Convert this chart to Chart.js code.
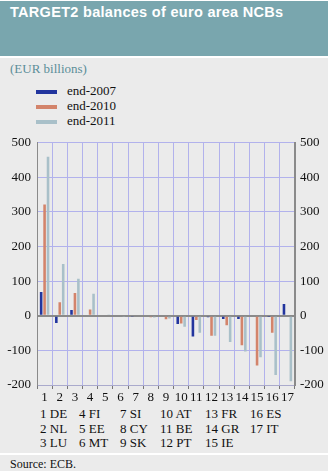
<!DOCTYPE html>
<html lang="en">
<head>
    <meta charset="UTF-8">
    <title>TARGET2 balances of euro area NCBs</title>
    <script src="https://cdn.jsdelivr.net/npm/chart.js"></script>
    <style>
        html, body { margin: 0; padding: 0; background: #fff; }
        #frame { position: absolute; left: 0; top: 1px; width: 328px; height: 470px; background: #ebebeb; overflow: hidden; }
        #band { position: absolute; left: 0; top: 0; width: 328px; height: 55px; background: #79a6ae; border-bottom: 2px solid #fff; }
        #band h1 { margin: 0; position: absolute; left: 10px; top: 3px; font: bold 14.5px "Liberation Sans", sans-serif; color: #fff; letter-spacing: 0.3px; }
        .serif { font-family: "Liberation Serif", serif; font-size: 13px; color: #111; }
        #unit { position: absolute; left: 10px; top: 60px; color: #5b8e99; }
        #legend { position: absolute; left: 36px; top: 82px; }
        #legend div { height: 15px; line-height: 15px; white-space: nowrap; }
        #legend span.sw { display: inline-block; width: 21px; height: 4px; vertical-align: middle; margin-right: 10px; }
        #wrap { position: absolute; left: 0; top: 129px; width: 331px; height: 280px; }
        #key { position: absolute; top: 406px; left: 0; }
        #key div { position: absolute; white-space: nowrap; line-height: 14.5px; }
        #foot { position: absolute; left: 0; top: 452px; width: 328px; border-top: 2px solid #fff; }
        #foot div { padding: 2px 0 0 10px; font-size: 12px; }
    </style>
</head>
<body>
    <div id="frame">
        <div id="band"><h1>TARGET2 balances of euro area NCBs</h1></div>
        <div id="unit" class="serif">(EUR billions)</div>
        <div id="legend" class="serif"></div>
        <div id="key" class="serif"></div>
        <div id="foot" class="serif"><div>Source: ECB.</div></div>
    </div>
    <div id="wrap"><canvas id="t2Chart"></canvas></div>

    <script>
        const categories = ['1', '2', '3', '4', '5', '6', '7', '8', '9', '10', '11', '12', '13', '14', '15', '16', '17'];
        const countries = ['DE', 'NL', 'LU', 'FI', 'EE', 'MT', 'SI', 'CY', 'SK', 'AT', 'BE', 'PT', 'FR', 'GR', 'IE', 'ES', 'IT'];
        const end2007 = [69, -21, 17, 3, 0, 0, -2, 0, 0, -24, -60, -4, -9, -9, 0, -1, 34];
        const end2010 = [322, 39, 66, 18, 0, -3, -3, -4, -10, -22, -12, -58, -27, -85, -144, -49, 0];
        const end2011 = [460, 150, 107, 64, 2, -2, -3, -5, -8, -32, -49, -58, -76, -103, -120, -171, -189];
        const seriesNames = ['end-2007', 'end-2010', 'end-2011'];
        const seriesColors = ['#22359e', '#d3846b', '#a9c0c9'];

        // legend
        const legend = document.getElementById('legend');
        legend.innerHTML = seriesNames.map((n, i) =>
            `<div><span class="sw" style="background:${seriesColors[i]}"></span>${n}</div>`).join('');

        // country key, three rows per column
        const keyX = [40, 79, 120, 160, 205, 250];
        const key = document.getElementById('key');
        countries.forEach((c, i) => {
            const d = document.createElement('div');
            d.style.left = keyX[Math.floor(i / 3)] + 'px';
            d.style.top = ((i % 3) * 14.5) + 'px';
            d.textContent = (i + 1) + ' ' + c;
            key.appendChild(d);
        });

        const tickFont = { family: 'Liberation Serif', size: 13 };
        const gridLav = '#b2b2ec';

        new Chart(document.getElementById('t2Chart'), {
            type: 'bar',
            data: {
                labels: categories,
                datasets: [end2007, end2010, end2011].map((d, i) => ({
                    label: seriesNames[i],
                    data: d,
                    backgroundColor: seriesColors[i],
                    borderWidth: 0,
                    yAxisID: 'y',
                    categoryPercentage: 0.68,
                    barPercentage: 0.75
                }))
            },
            options: {
                responsive: true,
                maintainAspectRatio: false,
                animation: false,
                layout: { padding: { top: 11, left: 0, right: 0, bottom: 0 } },
                plugins: { legend: { display: false }, tooltip: { enabled: false } },
                scales: {
                    x: {
                        grid: { color: gridLav, tickColor: '#777', tickLength: 4 },
                        border: { color: '#aaaacc' },
                        ticks: { font: tickFont, color: '#111', autoSkip: false, maxRotation: 0, padding: 1 },
                        afterFit: s => { s.height = 24; }
                    },
                    y: {
                        position: 'left',
                        min: -200, max: 500,
                        grid: {
                            drawTicks: false,
                            color: c => c.tick && c.tick.value === 0 ? '#8a8a8a' : gridLav,
                            lineWidth: c => c.tick && c.tick.value === 0 ? 2 : 1
                        },
                        border: { color: '#8a8a8a' },
                        ticks: { font: tickFont, color: '#111', padding: 6, stepSize: 100 },
                        afterFit: s => { s.width = 37; }
                    },
                    y2: {
                        position: 'right',
                        min: -200, max: 500,
                        grid: { display: false, drawTicks: false },
                        border: { color: '#8a8a8a', width: 2 },
                        ticks: { font: tickFont, color: '#111', padding: 5, stepSize: 100 },
                        afterFit: s => { s.width = 36; }
                    }
                }
            }
        });
    </script>
</body>
</html>
